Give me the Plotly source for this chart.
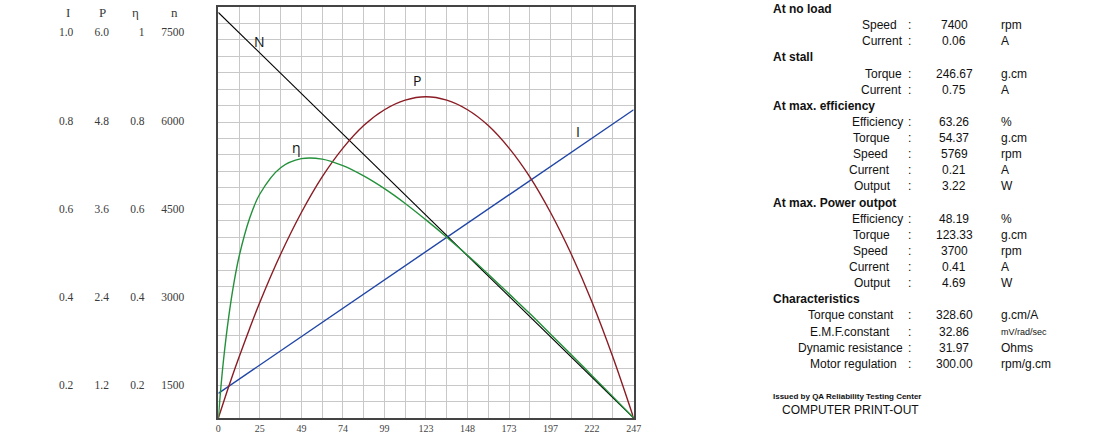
import plotly.graph_objects as go

# ---------------- data ----------------
stall_torque = 246.67          # g.cm
no_load_speed = 7400           # rpm
no_load_current = 0.06         # A
stall_current = 0.75           # A

# torque sample points (g.cm) and curves
torque = [0, 1.23, 3.08, 6.17, 9.25, 12.33, 18.50, 24.67, 37.00, 49.33, 61.67,
          74.00, 86.33, 98.67, 111.00, 123.33, 135.67, 148.00, 160.33, 172.67,
          185.00, 197.33, 209.67, 222.00, 234.33, 246.67]
power_w = [0, 0.09, 0.23, 0.46, 0.68, 0.89, 1.30, 1.69, 2.39, 3.00, 3.52,
           3.94, 4.27, 4.50, 4.64, 4.69, 4.64, 4.50, 4.27, 3.94,
           3.52, 3.00, 2.39, 1.69, 0.89, 0]
efficiency = [0, 0.061, 0.141, 0.246, 0.328, 0.393, 0.485, 0.545, 0.609, 0.631, 0.630,
              0.614, 0.589, 0.558, 0.522, 0.482, 0.440, 0.396, 0.350, 0.302,
              0.254, 0.204, 0.154, 0.103, 0.052, 0]

speed_line_torque = [0, stall_torque]
speed_line_rpm = [no_load_speed, 0]
current_line_torque = [0, stall_torque]
current_line_amp = [no_load_current, stall_current]

x_tick_labels = ["0", "25", "49", "74", "99", "123", "148", "173", "197", "222", "247"]

left_tick_vals = [7500, 6000, 4500, 3000, 1500]
left_labels_I = ["1.0", "0.8", "0.6", "0.4", "0.2"]
left_labels_P = ["6.0", "4.8", "3.6", "2.4", "1.2"]
left_labels_eta = ["1", "0.8", "0.6", "0.4", "0.2"]
left_labels_n = ["7500", "6000", "4500", "3000", "1500"]
left_headers = ["I", "P", "η", "n"]

curve_names = ["N", "P", "η", "I"]

sections = ["At no load", "At stall", "At max. efficiency", "At max. Power outpot", "Characteristics"]
row_labels = [
    ["Speed", "Current"],
    ["Torque", "Current"],
    ["Efficiency", "Torque", "Speed", "Current", "Output"],
    ["Efficiency", "Torque", "Speed", "Current", "Output"],
    ["Torque constant", "E.M.F.constant", "Dynamic resistance", "Motor regulation"],
]
row_values = [
    ["7400", "0.06"],
    ["246.67", "0.75"],
    ["63.26", "54.37", "5769", "0.21", "3.22"],
    ["48.19", "123.33", "3700", "0.41", "4.69"],
    ["328.60", "32.86", "31.97", "300.00"],
]
row_units = [
    ["rpm", "A"],
    ["g.cm", "A"],
    ["%", "g.cm", "rpm", "A", "W"],
    ["%", "g.cm", "rpm", "A", "W"],
    ["g.cm/A", "mV/rad/sec", "Ohms", "rpm/g.cm"],
]
footer_small = "Issued by QA Reliability Testing Center"
footer_big = "COMPUTER PRINT-OUT"

# ---------------- figure ----------------
W, H = 1100, 440
px_left, px_right, px_top, px_bottom = 217.5, 637.0, 7.0, 418.0

fig = go.Figure()
fig.add_trace(go.Scatter(x=speed_line_torque, y=speed_line_rpm, mode="lines",
                         line=dict(color="#000000", width=1.1), yaxis="y", hoverinfo="skip"))
fig.add_trace(go.Scatter(x=current_line_torque, y=current_line_amp, mode="lines",
                         line=dict(color="#1f45a6", width=1.4), yaxis="y2", hoverinfo="skip"))
fig.add_trace(go.Scatter(x=torque, y=power_w, mode="lines", line_shape="spline",
                         line=dict(color="#8b1c24", width=1.4), yaxis="y3", hoverinfo="skip"))
fig.add_trace(go.Scatter(x=torque, y=efficiency, mode="lines", line_shape="spline",
                         line=dict(color="#23913a", width=1.4), yaxis="y4", hoverinfo="skip"))

n_grid = 20
x_tickvals = [i * stall_torque / n_grid for i in range(n_grid + 1)]
x_ticktext = [x_tick_labels[i // 2] if i % 2 == 0 else "" for i in range(n_grid + 1)]

dom_x = [px_left / W, px_right / W]
dom_y = [1 - px_bottom / H, 1 - px_top / H]

# label-axis range (labels in the reference sit on their own spacing)
lab_top_px, lab_bot_px = 32.3, 385.3
per_px = (7500 - 1500) / (lab_bot_px - lab_top_px)
lab_range = [7500 - (px_bottom - lab_top_px) * per_px, 7500 + (lab_top_px - px_top) * per_px]

tick_font = dict(family="Liberation Serif", size=11.5, color="#3a3a3a")

layout = dict(
    width=W, height=H, autosize=False,
    margin=dict(l=0, r=0, t=0, b=0),
    paper_bgcolor="white", plot_bgcolor="white",
    showlegend=False,
    xaxis=dict(domain=dom_x, range=[0, stall_torque], tickvals=x_tickvals, ticktext=x_ticktext,
               showgrid=True, gridcolor="#c8c8c8", gridwidth=1, zeroline=False,
               showline=True, mirror=True, linecolor="#444444", linewidth=2,
               ticks="", tickfont=dict(family="Liberation Serif", size=10, color="#444444"),
               fixedrange=True),
    yaxis=dict(domain=dom_y, range=[0, 7500], dtick=300, tick0=0, showticklabels=False,
               showgrid=True, gridcolor="#c8c8c8", gridwidth=1, zeroline=False,
               showline=True, mirror=True, linecolor="#444444", linewidth=2, ticks=""),
    yaxis2=dict(overlaying="y", range=[0, 1], visible=False),
    yaxis3=dict(overlaying="y", range=[0, 6], visible=False),
    yaxis4=dict(overlaying="y", range=[0, 1], visible=False),
)

label_cols = [left_labels_I, left_labels_P, left_labels_eta, left_labels_n]
label_right_px = [73, 109, 145, 185]
for k, (texts, rpx) in enumerate(zip(label_cols, label_right_px)):
    layout[f"yaxis{5 + k}"] = dict(
        overlaying="y", anchor="free", position=(rpx - 2) / W, side="left",
        range=lab_range, tickvals=left_tick_vals, ticktext=texts,
        showgrid=False, zeroline=False, showline=False, ticks="", ticklen=0,
        tickfont=tick_font, automargin=False)
    fig.add_trace(go.Scatter(x=[], y=[], yaxis=f"y{5 + k}", hoverinfo="skip"))

fig.update_layout(**layout)

annotations = []
header_px = [66, 100, 134, 173]
for txt, hx in zip(left_headers, header_px):
    annotations.append(dict(text=txt, x=hx / W, y=1 - 13 / H, xref="paper", yref="paper",
                            xanchor="center", yanchor="middle", showarrow=False,
                            font=dict(family="Liberation Serif", size=13, color="#3a3a3a")))

# curve labels (positions on the torque / 0..1 scale)
curve_label_pos = [(24.4, 0.915), (117.9, 0.822), (46.2, 0.659), (213.7, 0.698)]
for name, (cx, cy) in zip(curve_names, curve_label_pos):
    annotations.append(dict(text=name, x=cx, y=cy, xref="x", yref="y2",
                            xanchor="center", yanchor="middle", showarrow=False,
                            font=dict(family="Open Sans", size=14, color="#111111")))

# right-hand table (label right edges in px, per section row - layout only)
label_edges = [
    [905, 911],
    [910, 910],
    [911, 898, 896, 898, 899],
    [911, 898, 896, 898, 899],
    [902, 898, 911, 905],
]
row_y0, row_step = 9.0, 16.13
txt_font = dict(family="Liberation Sans", size=12, color="#111111")
r = 0
for s, title in enumerate(sections):
    y = 1 - (row_y0 + r * row_step) / H
    annotations.append(dict(text=f"<b>{title}</b>", x=776 / W, y=y, xref="paper", yref="paper",
                            xanchor="left", yanchor="middle", showarrow=False, font=txt_font))
    r += 1
    for j, (lab, val, unit) in enumerate(zip(row_labels[s], row_values[s], row_units[s])):
        y = 1 - (row_y0 + r * row_step) / H
        annotations.append(dict(text=lab, x=label_edges[s][j] / W, y=y, xref="paper", yref="paper",
                                xanchor="right", yanchor="middle", showarrow=False, font=txt_font))
        annotations.append(dict(text=":", x=916 / W, y=y, xref="paper", yref="paper",
                                xanchor="center", yanchor="middle", showarrow=False, font=txt_font))
        annotations.append(dict(text=val, x=961 / W, y=y, xref="paper", yref="paper",
                                xanchor="center", yanchor="middle", showarrow=False, font=txt_font))
        ufont = dict(txt_font, size=9) if len(unit) > 8 else txt_font
        annotations.append(dict(text=unit, x=1006 / W, y=y, xref="paper", yref="paper",
                                xanchor="left", yanchor="middle", showarrow=False, font=ufont))
        r += 1

annotations.append(dict(text=f"<b>{footer_small}</b>", x=776 / W, y=1 - 396 / H, xref="paper",
                        yref="paper", xanchor="left", yanchor="middle", showarrow=False,
                        font=dict(family="Liberation Sans", size=8, color="#111111")))
annotations.append(dict(text=footer_big, x=785 / W, y=1 - 410 / H, xref="paper",
                        yref="paper", xanchor="left", yanchor="middle", showarrow=False,
                        font=dict(family="Liberation Sans", size=12, color="#111111")))

fig.update_layout(annotations=annotations)
fig.write_html("out.html", config={"displayModeBar": False},
               post_script="document.body.style.margin='0';document.body.style.overflow='hidden';")
